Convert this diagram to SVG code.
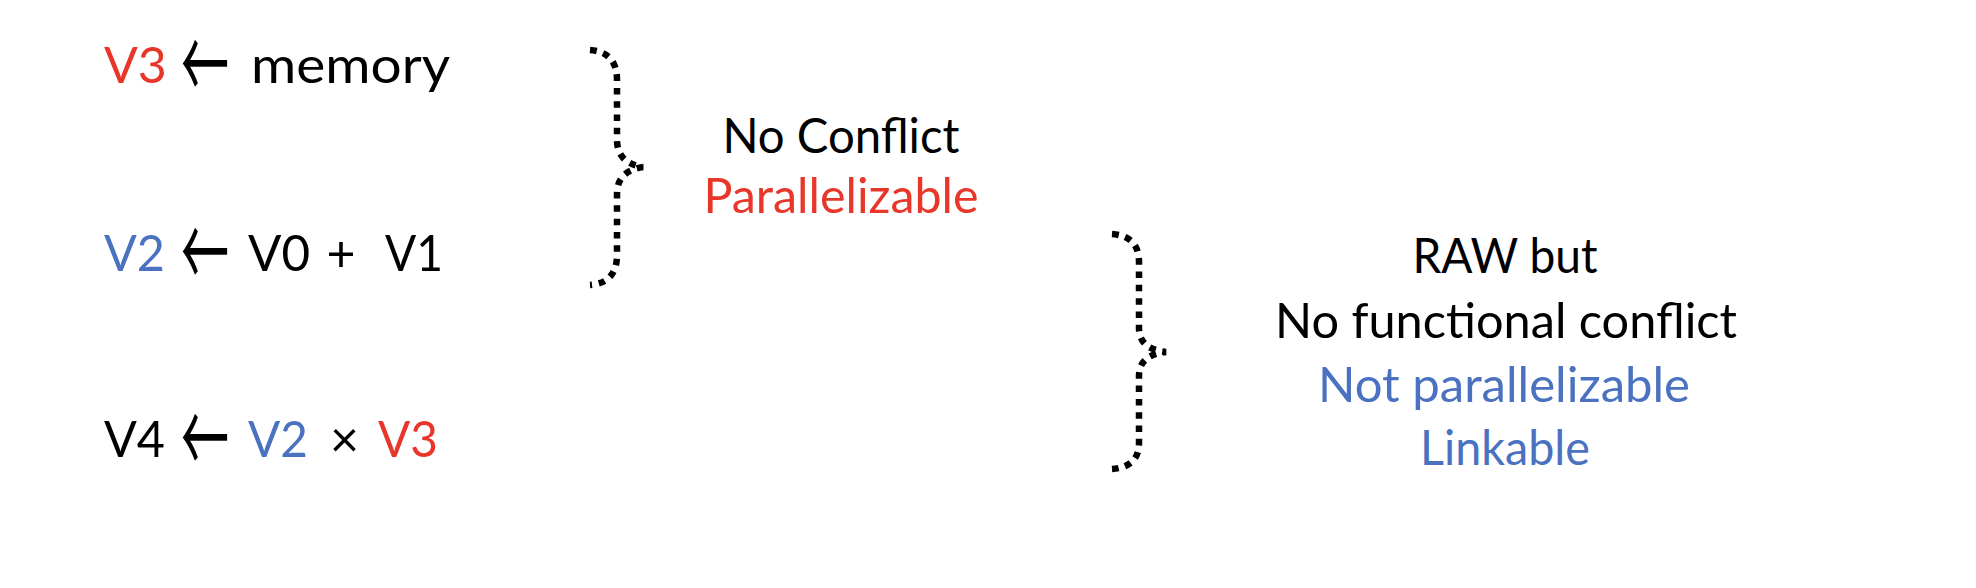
<svg xmlns="http://www.w3.org/2000/svg" width="1976" height="588" viewBox="0 0 1976 588">
<style>
text{font-family:Lato,"Liberation Sans",sans-serif;fill:#000}
.l{font-size:50px}
.r{font-size:48px}
.red{fill:#E8372A}
.blue{fill:#4A72C1}
.arr{font-size:100px;font-family:"Noto Sans CJK SC",sans-serif}
.brace{fill:none;stroke:#000;stroke-width:6.5;stroke-dasharray:6.5 6.8}
</style>
<rect width="1976" height="588" fill="#fff"/>
<g id="line1">
<text class="l red" x="104" y="83">V3</text>
<text class="arr" transform="translate(181,101) scale(0.48,1)">←</text>
<text class="l" x="251" y="83" textLength="199" lengthAdjust="spacingAndGlyphs">memory</text>
</g>
<g id="line2">
<text class="l blue" x="104" y="271" textLength="61" lengthAdjust="spacingAndGlyphs">V2</text>
<text class="arr" transform="translate(181,289) scale(0.48,1)">←</text>
<text class="l" x="248" y="271" textLength="62" lengthAdjust="spacingAndGlyphs">V0</text>
<text class="l" x="341" y="271" text-anchor="middle">+</text>
<text class="l" x="385" y="271" textLength="58" lengthAdjust="spacingAndGlyphs">V1</text>
</g>
<g id="line3">
<text class="l" x="104" y="457" textLength="61" lengthAdjust="spacingAndGlyphs">V4</text>
<text class="arr" transform="translate(181,475) scale(0.48,1)">←</text>
<text class="l blue" x="248" y="457" textLength="60" lengthAdjust="spacingAndGlyphs">V2</text>
<text class="l" x="344.5" y="457" text-anchor="middle">×</text>
<text class="l red" x="378" y="457" textLength="60" lengthAdjust="spacingAndGlyphs">V3</text>
</g>
<g id="connectors">
<path class="brace" d="M590,50 Q617,52 617,80 L617,140 Q617,163 643,167 Q617,171 617,194 L617,255 Q617,283 590,285"/>
<path class="brace" d="M1112,234 Q1139,236 1139,262 L1139,328 Q1139,349 1166,352 Q1139,355 1139,376 L1139,443 Q1139,467 1112,469"/>
</g>
<g id="label1">
<text class="r" x="841" y="153" text-anchor="middle" textLength="237" lengthAdjust="spacingAndGlyphs">No Conflict</text>
<text class="r red" x="841" y="213" text-anchor="middle" textLength="275" lengthAdjust="spacingAndGlyphs">Parallelizable</text>
</g>
<g id="label2">
<text class="r" x="1505" y="273" text-anchor="middle" textLength="185" lengthAdjust="spacingAndGlyphs">RAW but</text>
<text class="r" x="1506" y="338" text-anchor="middle" textLength="462" lengthAdjust="spacingAndGlyphs">No functional conflict</text>
<text class="r blue" x="1504" y="402" text-anchor="middle" textLength="372" lengthAdjust="spacingAndGlyphs">Not parallelizable</text>
<text class="r blue" x="1505" y="465" text-anchor="middle" textLength="170" lengthAdjust="spacingAndGlyphs">Linkable</text>
</g>
</svg>
